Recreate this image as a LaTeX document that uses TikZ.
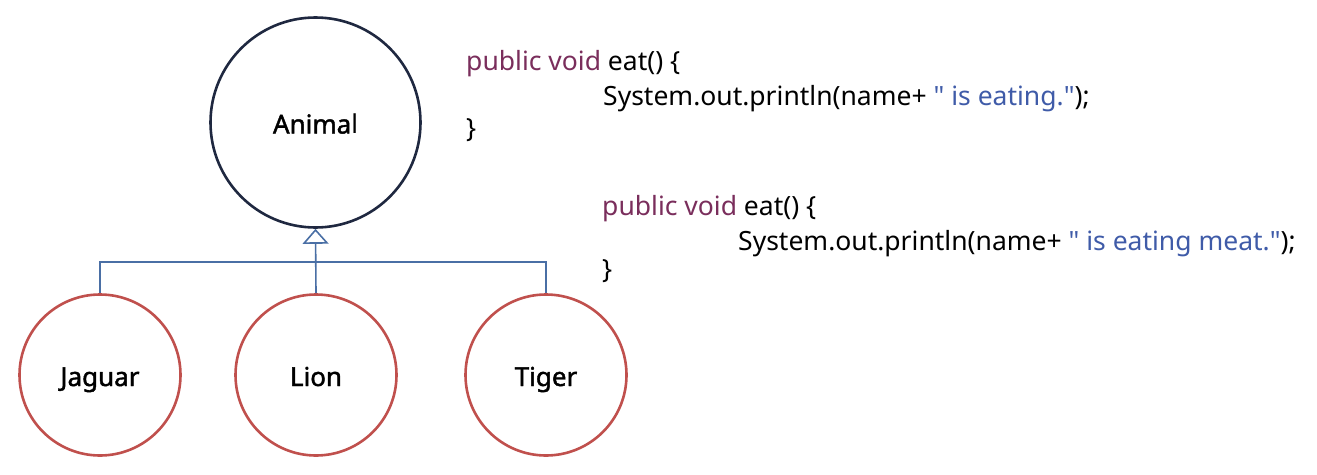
\documentclass[tikz,border=0pt]{standalone}
\usepackage{fontspec}
\setmainfont{Noto Sans}[AutoFakeBold=1.6]
\usetikzlibrary{arrows.meta}
\definecolor{navy}{HTML}{1F2840}
\definecolor{redc}{HTML}{C0504D}
\definecolor{bluec}{HTML}{4A6FA5}
\definecolor{kw}{HTML}{7A2E5C}
\definecolor{str}{HTML}{3F5BA8}
\newcommand{\qq}{\textquotedbl}
\tikzset{
  lbl/.style={text height=26pt,text depth=4pt,font=\fontsize{26}{30}\selectfont},
  parent/.style={circle,draw=navy,line width=2.6pt,minimum size=210pt,inner sep=0pt,lbl},
  child/.style={circle,draw=redc,line width=2.6pt,minimum size=161pt,inner sep=0pt,lbl},
  conn/.style={draw=bluec,line width=1.6pt},
  code/.style={anchor=base west,inner sep=0pt,font=\fontsize{26.5}{30}\selectfont}
}
\begin{document}
\begin{tikzpicture}[x=1pt,y=-1pt]
\useasboundingbox (0,0) rectangle (1317,474);
\node[parent] (animal) at (315.5,122.5) {\textbf{Anima}l};
\node[child] (jaguar) at (100,375) {\textbf{Jaguar}};
\node[child] (lion) at (316,375) {\textbf{Lion}};
\node[child] (tiger) at (546,375) {\textbf{Tiger}};
\coordinate (bar) at (316,262);
\draw[conn,-{Triangle[open,width=26pt,length=15pt,line width=1.6pt]}] (lion.north) -- (animal.south);
\draw[conn] (jaguar.north) |- (bar) -| (tiger.north);
\node[code] (c1) at (466,70) {\textcolor{kw}{public void} eat() \{};
\node[code] (c2) at (603,105) {System.out.println(name+ \textcolor{str}{\qq{} is eating.\qq});};
\node[code] (c3) at (466,137) {\}};
\node[code] (d1) at (602,215) {\textcolor{kw}{public void} eat() \{};
\node[code] (d2) at (738,250) {System.out.println(name+ \textcolor{str}{\qq{} is eating meat.\qq});};
\node[code] (d3) at (602,278) {\}};
\end{tikzpicture}
\end{document}
